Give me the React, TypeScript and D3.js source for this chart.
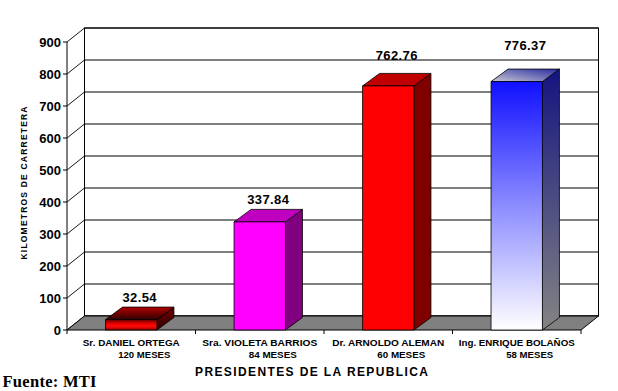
import React from "react";
import * as d3 from "d3";

const categories = ["Sr. DANIEL ORTEGA", "Sra. VIOLETA BARRIOS", "Dr. ARNOLDO ALEMAN", "Ing. ENRIQUE BOLAÑOS"];
const months = ["120 MESES", "84 MESES", "60 MESES", "58 MESES"];
const values = [32.54, 337.84, 762.76, 776.37];
const valueLabels = ["32.54", "337.84", "762.76", "776.37"];
const yTicks = [0, 100, 200, 300, 400, 500, 600, 700, 800, 900];

const W = 618, H = 391;
const X0 = 67, X1 = 581;
const DX = 17.5, DY = 14; // wall depth
const BDX = 17, BDY = 12.5; // bar depth
const labelLift = [18, 18, 26, 32];
const catLen = [97, 115, 112, 116];
const monthLen = [52, 48, 48, 47];

const fills = [
  { front: "url(#g1front)", top: "url(#g1top)", side: "url(#g1side)" },
  { front: "#ff00ff", top: "#c000c0", side: "#800080" },
  { front: "#ff0000", top: "#c00000", side: "#800000" },
  { front: "url(#g4front)", top: "url(#g4top)", side: "url(#g4side)" },
];

export default function App() {
  const x = d3.scaleBand<string>().domain(categories).range([X0, X1]).paddingInner(0.6).paddingOuter(0.3);
  const y = d3.scaleLinear().domain([0, 900]).range([330, 42]);
  const bw = x.bandwidth();
  const step = x.step();
  const font = "'Liberation Sans', Arial, sans-serif";
  const pts = (a: number[][]) => a.map((p) => p.join(",")).join(" ");
  const topY = y(900) - DY;
  const botY = y(0) - DY;

  return (
    <svg width={W} height={H} style={{ position: "absolute", left: 0, top: 0, background: "#fff" }}>
      <defs>
        <linearGradient id="g1front" x1="0" y1="0" x2="0" y2="1">
          <stop offset="0%" stopColor="#600000" />
          <stop offset="35%" stopColor="#e00000" />
          <stop offset="65%" stopColor="#ff0a0a" />
          <stop offset="100%" stopColor="#900000" />
        </linearGradient>
        <linearGradient id="g1top" x1="0" y1="0" x2="0" y2="1">
          <stop offset="0%" stopColor="#b00000" />
          <stop offset="100%" stopColor="#300000" />
        </linearGradient>
        <linearGradient id="g1side" x1="0" y1="0" x2="0" y2="1">
          <stop offset="0%" stopColor="#700000" />
          <stop offset="100%" stopColor="#300000" />
        </linearGradient>
        <linearGradient id="g4front" x1="0" y1="0" x2="0" y2="1">
          <stop offset="0%" stopColor="#1010ff" />
          <stop offset="50%" stopColor="#8c8cff" />
          <stop offset="100%" stopColor="#ffffff" />
        </linearGradient>
        <linearGradient id="g4side" x1="0" y1="0" x2="0" y2="1">
          <stop offset="0%" stopColor="#141480" />
          <stop offset="100%" stopColor="#848484" />
        </linearGradient>
        <linearGradient id="g4top" x1="0" y1="1" x2="1" y2="0">
          <stop offset="0%" stopColor="#c8c8d4" />
          <stop offset="100%" stopColor="#2a2aa0" />
        </linearGradient>
      </defs>

      {/* back wall */}
      <rect x={X0 + DX} y={topY} width={X1 - X0} height={botY - topY} fill="#fff" stroke="#000" strokeWidth={1} />
      {yTicks.map((t) => (
        <line key={"g" + t} x1={X0 + DX} x2={X1 + DX} y1={y(t) - DY} y2={y(t) - DY} stroke="#000" strokeWidth={1} />
      ))}
      {/* left wall diagonals */}
      {yTicks.map((t) => (
        <line key={"d" + t} x1={X0} x2={X0 + DX} y1={y(t)} y2={y(t) - DY} stroke="#000" strokeWidth={0.9} />
      ))}
      {/* floor */}
      <polygon
        points={pts([[X0, y(0)], [X1, y(0)], [X1 + DX, botY], [X0 + DX, botY]])}
        fill="#808080"
        stroke="#000"
        strokeWidth={1}
      />
      {/* front axis */}
      <line x1={X0} x2={X0} y1={y(900)} y2={y(0)} stroke="#000" strokeWidth={1} />
      {yTicks.map((t) => (
        <line key={"t" + t} x1={X0 - 4} x2={X0} y1={y(t)} y2={y(t)} stroke="#000" strokeWidth={1} />
      ))}
      {yTicks.map((t) => (
        <text key={"l" + t} x={61} y={y(t)} dy="0.36em" textAnchor="end" fontFamily={font} fontWeight="bold" fontSize={13} fill="#000">
          {t}
        </text>
      ))}
      {/* category ticks */}
      {d3.range(categories.length + 1).map((i) => (
        <line key={"c" + i} x1={X0 + i * step} x2={X0 + i * step} y1={y(0)} y2={y(0) + 4} stroke="#000" strokeWidth={1} />
      ))}

      {/* bars */}
      {categories.map((c, i) => {
        const bx = x(c)!;
        const by = y(values[i]);
        const b0 = y(0);
        const f = fills[i];
        return (
          <g key={c} stroke="#000" strokeWidth={0.8} strokeLinejoin="round">
            <polygon points={pts([[bx + bw, by], [bx + bw + BDX, by - BDY], [bx + bw + BDX, b0 - BDY], [bx + bw, b0]])} fill={f.side} />
            <polygon points={pts([[bx, by], [bx + BDX, by - BDY], [bx + bw + BDX, by - BDY], [bx + bw, by]])} fill={f.top} />
            <rect x={bx} y={by} width={bw} height={b0 - by} fill={f.front} />
          </g>
        );
      })}

      {/* value labels */}
      {categories.map((c, i) => (
        <text
          key={"v" + c}
          x={x(c)! + bw / 2 + BDX / 2}
          y={y(values[i]) - labelLift[i]}
          textAnchor="middle"
          fontFamily={font}
          fontWeight="bold"
          fontSize={13}
          letterSpacing={0.4}
          fill="#000"
        >
          {valueLabels[i]}
        </text>
      ))}

      {/* category labels */}
      {categories.map((c, i) => {
        const cx = X0 + (i + 0.5) * step;
        return (
          <g key={"cl" + c} fontFamily={font} fontWeight="bold" fontSize={9} fill="#000" textAnchor="middle">
            <text x={cx} y={346} textLength={catLen[i]} lengthAdjust="spacingAndGlyphs">{c}</text>
            <text x={cx + 13} y={357.5} textLength={monthLen[i]} lengthAdjust="spacingAndGlyphs">{months[i]}</text>
          </g>
        );
      })}

      {/* axis titles */}
      <text
        transform="translate(27,183) rotate(-90)"
        textAnchor="middle"
        fontFamily={font}
        fontWeight="bold"
        fontSize={8.5}
        textLength={153}
        lengthAdjust="spacing"
        fill="#000"
      >
        KILOMETROS DE CARRETERA
      </text>
      <text x={311.5} y={375.5} textAnchor="middle" fontFamily={font} fontWeight="bold" fontSize={12} textLength={233} lengthAdjust="spacing" fill="#000">
        PRESIDENTES DE LA REPUBLICA
      </text>
      <text x={2.5} y={387.3} fontFamily="'Liberation Serif', 'Times New Roman', serif" fontWeight="bold" fontSize={16.5} textLength={94} lengthAdjust="spacing" fill="#000">
        Fuente: MTI
      </text>
    </svg>
  );
}
